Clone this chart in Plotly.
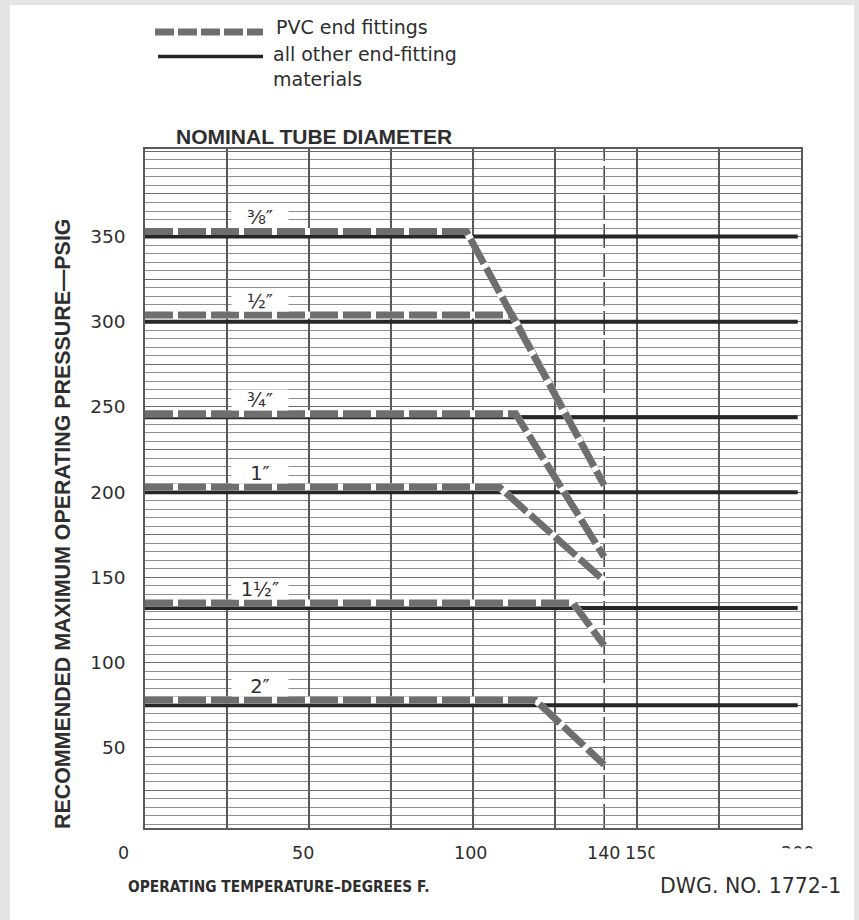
import plotly.graph_objects as go

# ---------------- data ----------------
sizes = ["⅜″", "½″", "¾″", "1″", "1½″", "2″"]
# all other end-fitting materials: flat rating across the temperature span
other_temp = [0, 199]
other_psig = [350, 300, 244, 200, 132, 75]
# PVC end fittings: flat, then derated up to 140 °F
pvc_temp = [
    [0, 98, 140],
    [0, 112, 140],
    [0, 113, 140],
    [0, 108, 140],
    [0, 130.5, 140],
    [0, 119, 140],
]
pvc_psig = [
    [353, 353, 204],
    [304, 304, 204],
    [246, 246, 162],
    [203, 203, 148],
    [135, 135, 110],
    [78, 78, 40],
]
pvc_limit_temp = 140
x_tick_vals = [0, 50, 100, 140, 150, 200]
x_tick_text = ["0", "50", "100", "140", "150", "200"]
y_tick_vals = [50, 100, 150, 200, 250, 300, 350]
y_tick_text = ["50", "100", "150", "200", "250", "300", "350"]

# ---------------- styling ----------------
W, H = 859, 920
L, R, T, B = 145, 801, 149, 828          # plot area in pixels
PW, PH = R - L, B - T
X_RANGE = [0, 200]
Y_RANGE = [2.9, 401.4]

INK = "#2e2e2e"
GRAY_LINE = "#6e6e6e"
SOLID = "#262626"
GRID_V = "#5a5a5a"
GRID_MAJ = "#6a6a6a"
GRID_MIN = "#8e8e8e"
FRAME_BG = "#e3e4e6"


def px(xp):
    return (xp - L) / PW


def py(yp):
    return (B - yp) / PH


fig = go.Figure()

# solid black lines (all other materials)
for s, v in zip(sizes, other_psig):
    fig.add_trace(go.Scatter(
        x=other_temp, y=[v, v], mode="lines",
        line=dict(color=SOLID, width=4),
        name=f"{s} other", hoverinfo="skip", showlegend=False))

# PVC dashed lines (white underlay so gaps read white, as in the drawing)
for i in reversed(range(len(sizes))):
    fig.add_trace(go.Scatter(
        x=pvc_temp[i], y=pvc_psig[i], mode="lines",
        line=dict(color="white", width=7),
        hoverinfo="skip", showlegend=False))
    fig.add_trace(go.Scatter(
        x=pvc_temp[i], y=pvc_psig[i], mode="lines",
        line=dict(color=GRAY_LINE, width=7, dash="28px,5px"),
        name=f"{sizes[i]} PVC", hoverinfo="skip", showlegend=False))

shapes = [
    # white sheet on the gray frame
    dict(type="rect", xref="paper", yref="paper", layer="below",
         x0=px(10), x1=px(854), y0=py(925), y1=py(5),
         fillcolor="white", line=dict(width=0)),
    # 140 F limit line
    dict(type="line", xref="x", yref="paper", layer="below",
         x0=pvc_limit_temp, x1=pvc_limit_temp, y0=0, y1=1,
         line=dict(color="#4a4a4a", width=1.6, dash="24px,5px")),
    # legend samples
    dict(type="line", xref="paper", yref="paper",
         x0=px(155), x1=px(263), y0=py(32), y1=py(32),
         line=dict(color=GRAY_LINE, width=7, dash="19px,4px")),
    dict(type="line", xref="paper", yref="paper",
         x0=px(158), x1=px(263), y0=py(56.5), y1=py(56.5),
         line=dict(color=SOLID, width=3.5)),
]

ann = []
# size labels above each curve
for s, v in zip(sizes, pvc_psig):
    ann.append(dict(x=35, y=v[0], xref="x", yref="y", text=s,
                    showarrow=False, yshift=14, yanchor="middle",
                    bgcolor="white", width=56, height=20, borderpad=0,
                    font=dict(family="DejaVu Sans", size=19.5, color=INK)))

# x tick labels (printed slightly off the grid in the drawing)
x_shift = [-22, -6, -3, -1, 4, -4]
for v, t, dx in zip(x_tick_vals, x_tick_text, x_shift):
    ann.append(dict(x=v, y=py(853), xref="x", yref="paper", text=t,
                    showarrow=False, xshift=dx, yanchor="middle",
                    font=dict(family="DejaVu Sans", size=17.5, color=INK)))
# the drawing's "150" and "200" are partly cut off
ann.append(dict(x=px(654), y=py(838), xref="paper", yref="paper", text=" ",
                xanchor="left", yanchor="top", width=46, height=32,
                bgcolor="white", showarrow=False, borderpad=0))
ann.append(dict(x=px(768), y=py(848), xref="paper", yref="paper", text=" ",
                xanchor="left", yanchor="top", width=62, height=22,
                bgcolor="white", showarrow=False, borderpad=0))

# titles and notes
ann += [
    dict(x=px(174), y=py(136), xref="paper", yref="paper",
         text="NOMINAL TUBE DIAMETER", showarrow=False,
         xanchor="left", yanchor="middle",
         font=dict(family="Liberation Sans", size=21, color=INK, weight="bold")),
    dict(x=px(63), y=py(524), xref="paper", yref="paper",
         text="RECOMMENDED MAXIMUM OPERATING PRESSURE—PSIG", textangle=-90,
         showarrow=False, xanchor="center", yanchor="middle",
         font=dict(family="Liberation Sans", size=21.4, color=INK, weight="bold")),
    dict(x=px(126), y=py(887), xref="paper", yref="paper",
         text="OPERATING TEMPERATURE–DEGREES F.", showarrow=False,
         xanchor="left", yanchor="middle",
         font=dict(family="DejaVu Sans Condensed", size=15.3, color=INK,
                   weight="bold")),
    dict(x=px(843), y=py(886), xref="paper", yref="paper",
         text="DWG. NO. 1772-1", showarrow=False,
         xanchor="right", yanchor="middle",
         font=dict(family="DejaVu Sans", size=20.5, color=INK)),
    dict(x=px(274), y=py(27), xref="paper", yref="paper",
         text="PVC end fittings", showarrow=False,
         xanchor="left", yanchor="middle",
         font=dict(family="DejaVu Sans", size=19, color=INK)),
    dict(x=px(271), y=py(67), xref="paper", yref="paper",
         text="all other end-fitting<br>materials", showarrow=False,
         xanchor="left", yanchor="middle", align="left",
         font=dict(family="DejaVu Sans", size=19, color=INK)),
]

major_y = list(range(25, 401, 25))
major_y_text = [y_tick_text[y_tick_vals.index(v)] if v in y_tick_vals else ""
                for v in major_y]

fig.update_layout(
    width=W, height=H,
    margin=dict(l=L, r=W - R, t=T, b=H - B, pad=0),
    paper_bgcolor=FRAME_BG, plot_bgcolor="white",
    showlegend=False, hovermode=False,
    shapes=shapes, annotations=ann,
    xaxis=dict(range=X_RANGE, tickmode="linear", tick0=0, dtick=25,
               showticklabels=False, ticks="", showgrid=True,
               gridcolor=GRID_V, gridwidth=1.5, zeroline=False,
               showline=True, mirror=True, linecolor=GRID_V, linewidth=1.5),
    yaxis=dict(range=Y_RANGE, tickmode="array", tickvals=major_y,
               ticktext=major_y_text, ticks="", ticklabelstandoff=14,
               tickfont=dict(family="DejaVu Sans", size=18.5, color=INK),
               showgrid=True, gridcolor=GRID_MAJ, gridwidth=1.2,
               minor=dict(tickmode="linear", tick0=0, dtick=5, showgrid=True,
                          gridcolor=GRID_MIN, gridwidth=1, ticks=""),
               zeroline=False, showline=True, mirror=True,
               linecolor=GRID_V, linewidth=1.5),
)

fig.write_html("out.html",
               config={"displayModeBar": False},
               post_script="document.body.style.margin='0px';")
